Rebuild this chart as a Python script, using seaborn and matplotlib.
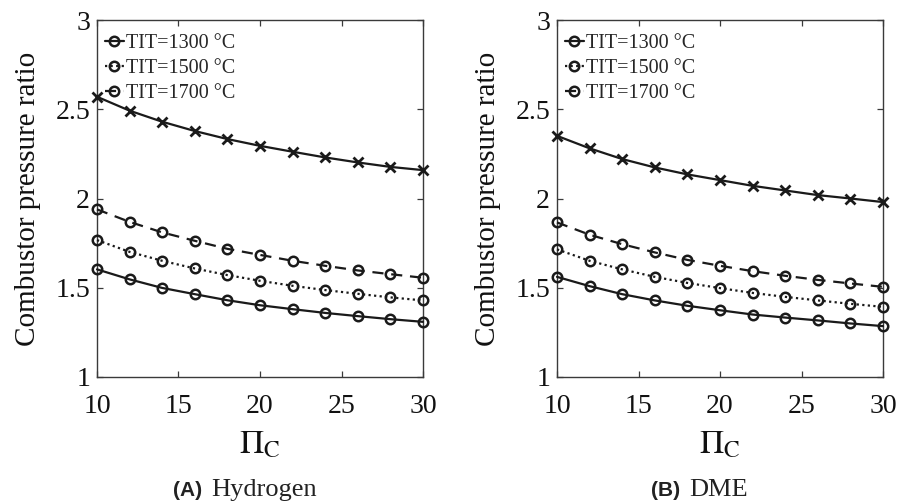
import matplotlib
matplotlib.use("Agg")
import matplotlib.pyplot as plt
import seaborn as sns

# ---------------- data ----------------
pi_c = [10, 12, 14, 16, 18, 20, 22, 24, 26, 28, 30]

h2_upper = [2.570, 2.492, 2.430, 2.378, 2.333, 2.295, 2.262, 2.230, 2.202, 2.177, 2.159]
h2_1300 = [1.603, 1.547, 1.499, 1.464, 1.430, 1.402, 1.380, 1.359, 1.341, 1.324, 1.309]
h2_1500 = [1.767, 1.701, 1.651, 1.608, 1.571, 1.539, 1.511, 1.487, 1.466, 1.446, 1.429]
h2_1700 = [1.939, 1.869, 1.810, 1.763, 1.718, 1.684, 1.651, 1.623, 1.597, 1.576, 1.556]

dme_upper = [2.351, 2.281, 2.221, 2.174, 2.135, 2.103, 2.071, 2.045, 2.019, 2.000, 1.980]
dme_1300 = [1.561, 1.509, 1.464, 1.429, 1.399, 1.374, 1.350, 1.333, 1.317, 1.300, 1.285]
dme_1500 = [1.715, 1.651, 1.603, 1.561, 1.527, 1.498, 1.471, 1.449, 1.429, 1.410, 1.393]
dme_1700 = [1.866, 1.797, 1.744, 1.698, 1.656, 1.623, 1.593, 1.567, 1.544, 1.524, 1.505]

series_labels = ["TIT=1300 °C", "TIT=1500 °C", "TIT=1700 °C"]
panel_tags = ["(A)", "(B)"]
panel_names = ["Hydrogen", "DME"]
x_ticks = [10, 15, 20, 25, 30]
y_ticks = [1, 1.5, 2, 2.5, 3]
y_ticklabels = ["1", "1.5", "2", "2.5", "3"]
ylabel = "Combustor pressure ratio"
xlabel = r"$\Pi_\mathrm{C}$"

# ---------------- style ----------------
sns.set_theme(style="ticks")
plt.rcParams["font.family"] = ["Liberation Serif", "DejaVu Serif"]
plt.rcParams["mathtext.fontset"] = "stix"
plt.rcParams["xtick.direction"] = "in"
plt.rcParams["ytick.direction"] = "in"

W, H = 898, 504
fig = plt.figure(figsize=(W / 100, H / 100), dpi=100)

def fx(px):
    return px / W

def fy(py):
    return 1 - py / H

ax_w = 326 / W
ax_h = 357 / H
axes = [fig.add_axes([fx(97), fy(377), ax_w, ax_h]),
        fig.add_axes([fx(557), fy(377), ax_w, ax_h])]

panels = [
    (h2_upper, h2_1300, h2_1500, h2_1700),
    (dme_upper, dme_1300, dme_1500, dme_1700),
]

spine_col = "#3a3a3a"
styles = ["-", (0, (1, 1.5)), (0, (5, 3.5))]

for ax, (upper, s13, s15, s17) in zip(axes, panels):
    sns.lineplot(x=pi_c, y=upper, ax=ax, color="k", linewidth=1.6,
                 marker="x", markersize=7.5, markeredgewidth=2.0,
                 markeredgecolor="k", clip_on=False, zorder=3)
    for vals, ls, lab in zip((s13, s15, s17), styles, series_labels):
        sns.lineplot(x=pi_c, y=vals, ax=ax, color="k", linewidth=1.6,
                     linestyle=ls, marker="o", markersize=6.8,
                     markerfacecolor="none", markeredgecolor="k",
                     markeredgewidth=1.8, label=lab, clip_on=False, zorder=3)
    ax.set_xlim(10, 30)
    ax.set_ylim(1, 3)
    ax.set_xticks(x_ticks)
    ax.set_xticklabels([str(t) for t in x_ticks])
    ax.set_yticks(y_ticks)
    ax.set_yticklabels(y_ticklabels)
    ax.tick_params(axis="both", which="both", direction="in", top=True,
                   right=True, length=4, width=0.9, color=spine_col,
                   labelsize=20, labelcolor="#111111")
    ax.tick_params(axis="x", pad=12)
    ax.tick_params(axis="y", pad=5)
    for sp in ax.spines.values():
        sp.set_visible(True)
        sp.set_color(spine_col)
        sp.set_linewidth(1.0)
    ax.set_ylabel(ylabel, fontsize=21, labelpad=10, color="#111111")
    ax.set_xlabel(xlabel, fontsize=24, labelpad=8, color="#111111")
    h, l = ax.get_legend_handles_labels()
    ax.legend(h, l, loc="upper left", bbox_to_anchor=(-0.02, 1.0),
              frameon=False, fontsize=14.5, handlelength=0.95,
              handletextpad=0.1, labelspacing=0.28, borderaxespad=0.3,
              numpoints=1)

# captions
cap_y = fy(490)
for tag, name, xr in zip(panel_tags, panel_names, (202, 680)):
    fig.text(fx(xr), cap_y, tag, ha="right", va="center", fontsize=15,
             fontweight="bold", family=["Liberation Sans", "DejaVu Sans"],
             color="#222222")
    fig.text(fx(xr + 9), cap_y, name, ha="left", va="center",
             fontsize=19, color="#222222")

fig.savefig("out.png", dpi=100)
